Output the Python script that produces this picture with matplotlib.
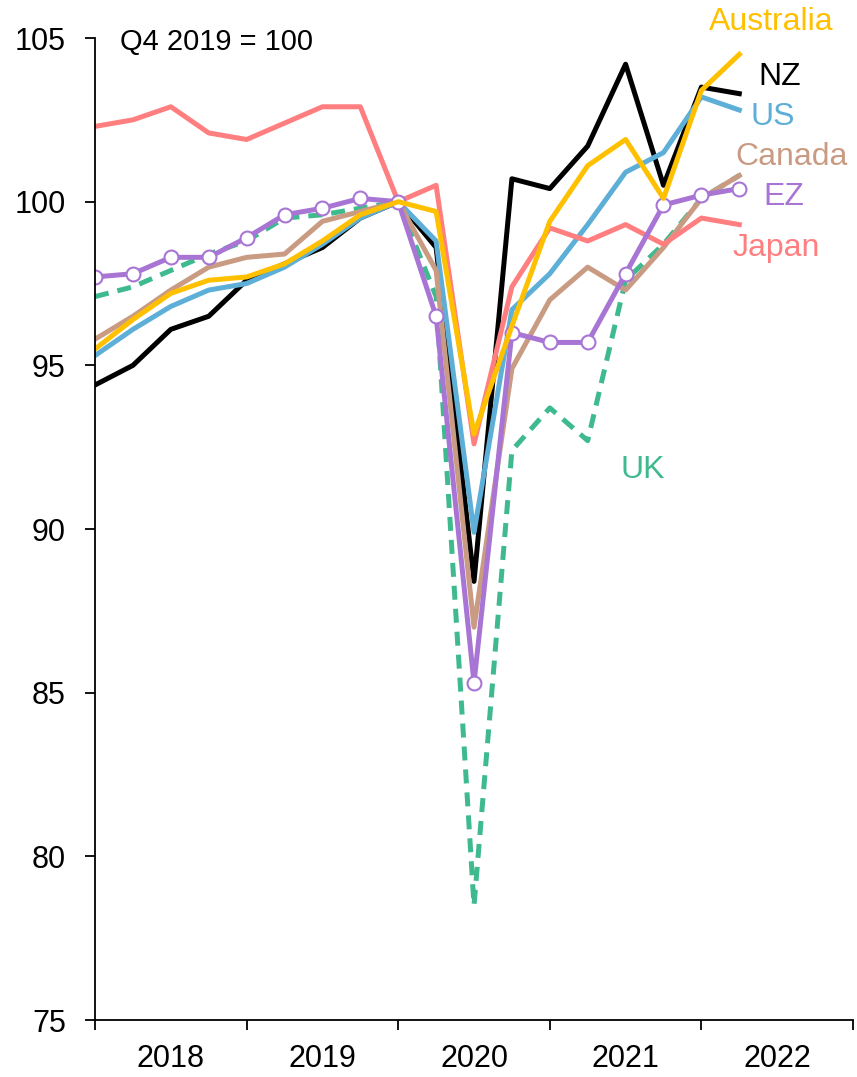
import matplotlib.pyplot as plt

# quarterly index, Q4 2019 = 100 (x positions 0..17 on a 20-slot axis)
quarters = list(range(18))

nz = [94.4, 95.0, 96.1, 96.5, 97.6, 98.1, 98.6, 99.5, 100.0,
      98.6, 88.4, 100.7, 100.4, 101.7, 104.2, 100.5, 103.5, 103.3]
us = [95.3, 96.1, 96.8, 97.3, 97.5, 98.0, 98.7, 99.5, 100.0,
      98.8, 89.9, 96.7, 97.8, 99.3, 100.9, 101.5, 103.2, 102.8]
canada = [95.8, 96.5, 97.3, 98.0, 98.3, 98.4, 99.4, 99.7, 100.0,
          97.9, 87.0, 94.9, 97.0, 98.0, 97.3, 98.6, 100.1, 100.8]
japan = [102.3, 102.5, 102.9, 102.1, 101.9, 102.4, 102.9, 102.9, 100.0,
         100.5, 92.6, 97.4, 99.2, 98.8, 99.3, 98.7, 99.5, 99.3]
ez = [97.7, 97.8, 98.3, 98.3, 98.9, 99.6, 99.8, 100.1, 100.0,
      96.5, 85.3, 96.0, 95.7, 95.7, 97.8, 99.9, 100.2, 100.4]
australia = [95.5, 96.4, 97.2, 97.6, 97.7, 98.1, 98.8, 99.6, 100.0,
             99.7, 92.9, 96.2, 99.4, 101.1, 101.9, 100.1, 103.4, 104.5]
uk = [97.1, 97.4, 97.9, 98.4, 98.8, 99.5, 99.6, 99.8, 100.0,
      97.1, 78.5, 92.4, 93.7, 92.7, 97.6, 98.7, 100.1, 100.8]

years = ['2018', '2019', '2020', '2021', '2022']

c_nz = 'black'
c_us = '#5eafd8'
c_ca = '#c99b83'
c_jp = '#ff7f80'
c_ez = '#a875d5'
c_au = '#ffc000'
c_uk = '#3fba8f'

plt.rcParams['font.family'] = ['Liberation Sans', 'DejaVu Sans']

fig = plt.figure(figsize=(8.57, 10.77), dpi=100)
ax = fig.add_axes([0.1109, 0.0529, 0.8844, 0.9118])

lw = 3.6
ax.plot(quarters, uk, color=c_uk, lw=lw, linestyle=(0, (2.8, 1.8)))
ax.plot(quarters, nz, color=c_nz, lw=lw)
ax.plot(quarters, us, color=c_us, lw=lw)
ax.plot(quarters, canada, color=c_ca, lw=lw)
ax.plot(quarters, japan, color=c_jp, lw=lw)
ax.plot(quarters, ez, color=c_ez, lw=lw, marker='o', markersize=10,
        markerfacecolor='white', markeredgecolor=c_ez, markeredgewidth=1.5)
ax.plot(quarters, australia, color=c_au, lw=lw)

ax.set_xlim(0, 20)
ax.set_ylim(75, 105)
ax.set_yticks([75, 80, 85, 90, 95, 100, 105])
ax.set_xticks([0, 4, 8, 12, 16, 20])
ax.set_xticklabels([])
ax.set_xticks([2, 6, 10, 14, 18], minor=True)
ax.set_xticklabels(years, minor=True)
ax.tick_params(axis='x', which='minor', length=0, pad=17, labelsize=22)
ax.tick_params(axis='x', which='major', length=7, width=1.3, direction='out')
ax.tick_params(axis='y', length=7, width=1.3, direction='out', labelsize=22, pad=14)
for s in ['top', 'right']:
    ax.spines[s].set_visible(False)
for s in ['left', 'bottom']:
    ax.spines[s].set_linewidth(1.3)

ax.text(0.66, 104.88, 'Q4 2019 = 100', fontsize=21, va='center', ha='left')

lab = dict(fontsize=23, va='center', ha='center')
ax.text(17.84, 105.49, 'Australia', color=c_au, **lab)
ax.text(18.07, 103.81, 'NZ', color=c_nz, **lab)
ax.text(17.89, 102.59, 'US', color=c_us, **lab)
ax.text(18.39, 101.36, 'Canada', color=c_ca, **lab)
ax.text(18.18, 100.14, 'EZ', color=c_ez, **lab)
ax.text(17.97, 98.58, 'Japan', color=c_jp, **lab)
ax.text(14.46, 91.8, 'UK', color=c_uk, **lab)

fig.savefig('out.png', dpi=100)
